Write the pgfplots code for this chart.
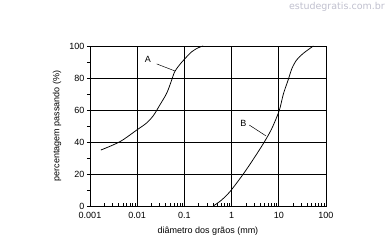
\documentclass[border=0pt]{standalone}
\usepackage{pgfplots}
\pgfplotsset{compat=1.18}
\usepackage{fontspec}
\setmainfont{Liberation Sans}
\newfontfamily\wmfont{DejaVu Sans}
\definecolor{wm}{RGB}{192,192,206}
\begin{document}
\begin{tikzpicture}[x=1pt,y=1pt]
\useasboundingbox (0,0) rectangle (386,246);
\node[anchor=east,text=wm,font=\wmfont\fontsize{9.5}{10}\selectfont,inner sep=0pt] at (385,239) {estudegratis.com.br};
\begin{axis}[
  at={(90pt,40pt)}, anchor=south west,
  scale only axis, width=236pt, height=160pt,
  xmode=log, xmin=0.001, xmax=100, ymin=0, ymax=100,
  xtick={0.001,0.01,0.1,1,10,100},
  xticklabels={0.001,0.01,0.1,1,10,100},
  ytick={0,20,40,60,80,100},
  yticklabels={0,20,40,60,80,100},
  minor y tick num=1,
  grid=major,
  major grid style={black, line width=0.8pt},
  axis line style={black, line width=0.8pt},
  tick align=inside,
  xtick pos=bottom, ytick pos=left,
  major tick length=3pt, minor tick length=3pt,
  every tick/.style={black, line width=0.6pt},
  y tick style={xshift=-3pt},
  tick label style={font=\fontsize{9}{10}\selectfont, inner sep=0.5pt},
  /pgf/number format/assume math mode=true,
  xticklabel style={yshift=-5.5pt},
  yticklabel style={xshift=-5pt},
  xlabel={diâmetro dos grãos (mm)},
  ylabel={percentagem passando (\%)},
  label style={font=\fontsize{9}{10}\selectfont},
  xlabel style={yshift=-4pt},
  ylabel style={yshift=4pt},
]
\addplot[black, line width=0.75pt, smooth, tension=0.55] coordinates {
 (0.0017,35) (0.0043,40.2) (0.0098,47.5) (0.016,52) (0.022,56.5) (0.03,63) (0.042,70.4)
 (0.052,77.5) (0.062,83.8) (0.077,87.8) (0.095,91) (0.143,96.4) (0.2,99) (0.25,100)};
\addplot[black, line width=0.75pt, smooth, tension=0.5] coordinates {
 (0.41,0) (0.6,3.5) (0.925,9) (1.77,20) (3,30) (4.7,39) (7,48) (10.2,59.6)
 (12.5,70) (15.8,78.8) (19,86) (23.9,91.3) (33,95.4) (54,100)};
\node[font=\fontsize{9}{10}\selectfont] at (axis cs:0.0169,91.5) {A};
\draw[black, line width=0.5pt] (axis cs:0.0259,88.8) -- (axis cs:0.063,84.4);
\node[font=\fontsize{9}{10}\selectfont] at (axis cs:1.77,51.5) {B};
\draw[black, line width=0.5pt] (axis cs:2.37,50.6) -- (axis cs:5.36,43.8);
\end{axis}
\end{tikzpicture}
\end{document}
